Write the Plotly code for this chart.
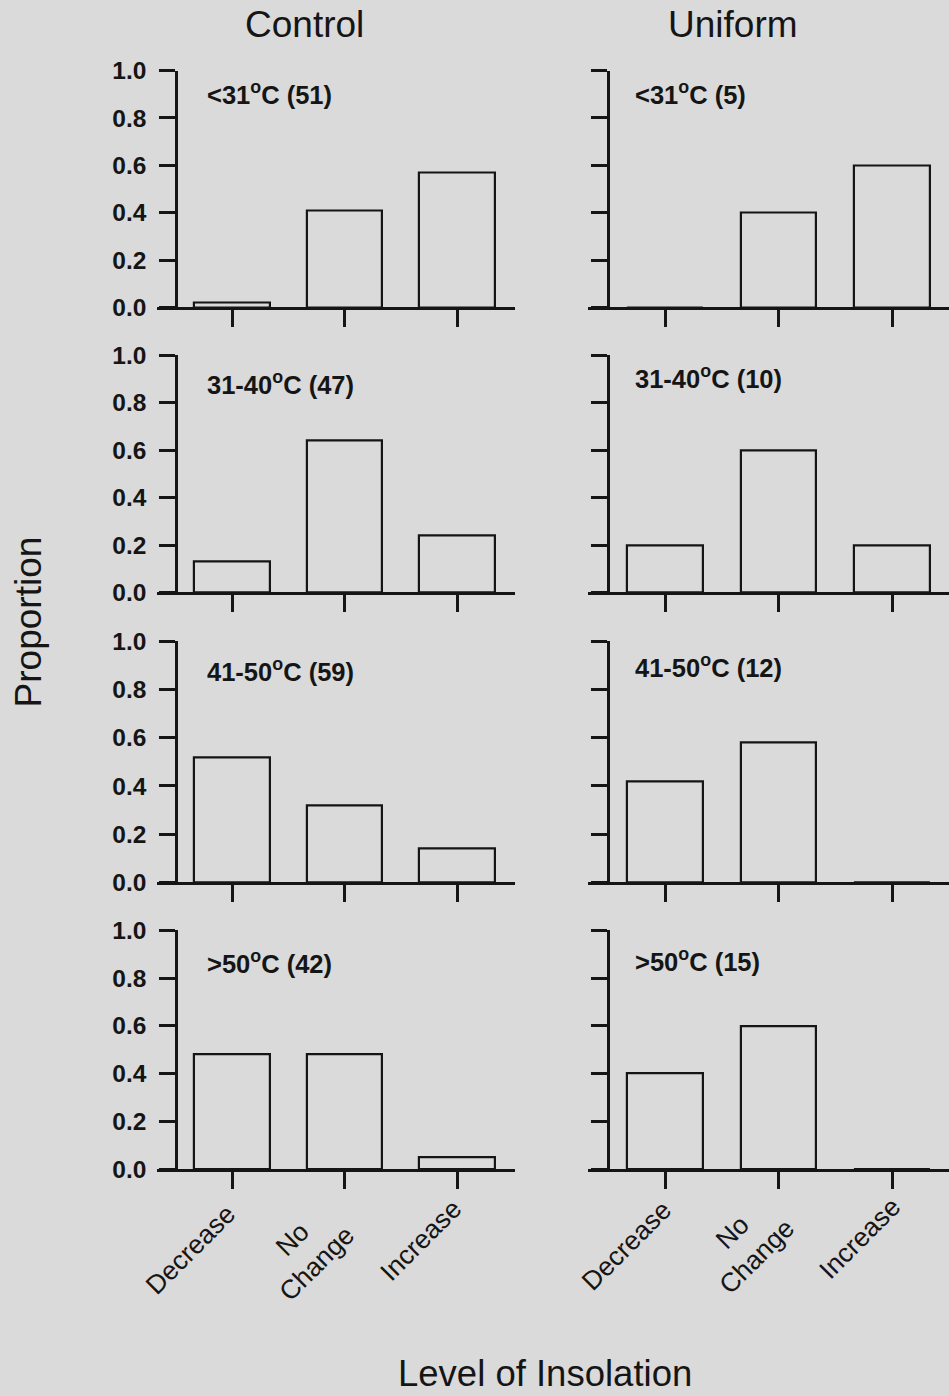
import plotly.graph_objects as go

# Response categories on the x axis
categories = ["Decrease", "No<br>Change", "Increase"]

# Temperature classes (rows) and sample sizes per treatment
temp_bins = ["&lt;31", "31-40", "41-50", "&gt;50"]
control_n = [51, 47, 59, 42]
uniform_n = [5, 10, 12, 15]

# Proportion of animals in each response category, per temperature class
control_props = [
    [0.02, 0.41, 0.57],
    [0.13, 0.64, 0.24],
    [0.52, 0.32, 0.14],
    [0.48, 0.48, 0.05],
]
uniform_props = [
    [0.00, 0.40, 0.60],
    [0.20, 0.60, 0.20],
    [0.42, 0.58, 0.00],
    [0.40, 0.60, 0.00],
]

treatments = ["Control", "Uniform"]
y_ticks = [0, 0.2, 0.4, 0.6, 0.8, 1.0]

W, H = 949, 1396
BG = "#dadada"
INK = "#151515"
FONT = "Liberation Sans, Arial, sans-serif"

# Page inset and scale of the rendered figure inside the viewport
OX, SX = 0.0, 1.0
OY, SY = 13.4, 0.981


def px_x(v):
    return min(1.0, max(0.0, ((v - OX) / SX) / W))


def px_y(v):
    return min(1.0, max(0.0, 1 - ((v - OY) / SY) / H))


# Panel geometry in viewport pixels
row_px = [(71, 308), (356, 593), (642, 883), (931, 1170)]
col_cfg = [
    dict(x0=157, x1=515, yline=176, ticks=(232, 457), label_x=205, title_x=304,
         cat_dx=[-42, -40, -36], cat_y=[1251, 1252, 1241]),
    dict(x0=588, x1=949, yline=608, ticks=(665, 892), label_x=633, title_x=733,
         cat_dx=[-39, -34, -32], cat_y=[1247, 1245, 1239]),
]
label_y = [[93, 384, 671, 963], [93, 378, 667, 961]]


def x_range(cfg):
    # category positions 0 and 2 sit at the given tick pixels
    a, b = cfg["ticks"]
    step = (b - a) / 2
    x1 = min(cfg["x1"], OX + SX * W)
    return [-(a - cfg["x0"]) / step, (x1 - a) / step]


fig = go.Figure()
layout = {}
annotations = []

for c, (props, ns) in enumerate([(control_props, control_n), (uniform_props, uniform_n)]):
    cfg = col_cfg[c]
    for r in range(4):
        k = r * 2 + c + 1
        xa = "x" if k == 1 else f"x{k}"
        ya = "y" if k == 1 else f"y{k}"
        xkey = "xaxis" if k == 1 else f"xaxis{k}"
        ykey = "yaxis" if k == 1 else f"yaxis{k}"
        top, bot = row_px[r]

        fig.add_trace(go.Bar(
            x=[0, 1, 2], y=props[r], width=0.667,
            marker=dict(color="rgba(0,0,0,0)", line=dict(color=INK, width=2.2)),
            xaxis=xa, yaxis=ya, showlegend=False, hoverinfo="skip",
        ))

        layout[xkey] = dict(
            domain=[px_x(cfg["x0"]), px_x(cfg["x1"])],
            anchor=ya, range=x_range(cfg),
            showline=True, linecolor=INK, linewidth=2.5,
            showgrid=False, zeroline=False,
            tickmode="array", tickvals=[0, 1, 2],
            showticklabels=False,
            ticks="outside", ticklen=17, tickwidth=2.5, tickcolor=INK,
            fixedrange=True,
        )

        yaxis = dict(
            domain=[px_y(bot), px_y(top)],
            anchor="free", position=px_x(cfg["yline"]),
            range=[0, 1],
            showline=True, linecolor=INK, linewidth=2.5,
            showgrid=False, zeroline=False,
            tickmode="array", tickvals=y_ticks,
            showticklabels=(c == 0),
            ticks="outside", ticklen=16, tickwidth=2.5, tickcolor=INK,
            fixedrange=True,
        )
        if c == 0:
            yaxis.update(
                ticktext=[f"{v:.1f}" for v in y_ticks],
                ticklabelstandoff=8,
                tickfont=dict(family=FONT, size=24.5, color=INK, weight="bold"),
            )
        layout[ykey] = yaxis

        annotations.append(dict(
            text=f"{temp_bins[r]}<sup>o</sup>C ({ns[r]})",
            xref="paper", yref="paper",
            x=px_x(cfg["label_x"]), y=px_y(label_y[c][r]),
            xanchor="left", yanchor="middle", showarrow=False,
            font=dict(family=FONT, size=25.5, color=INK, weight="bold"),
        ))

        # Slanted category names under the bottom panel, centred lines
        if r == 3:
            for i, name in enumerate(categories):
                annotations.append(dict(
                    text=name, xref=xa, yref="paper",
                    x=i, xshift=cfg["cat_dx"][i] / SX,
                    y=px_y(cfg["cat_y"][i]),
                    xanchor="center", yanchor="middle", align="center",
                    textangle=-45, showarrow=False,
                    font=dict(family=FONT, size=26.5, color=INK),
                ))

    annotations.append(dict(
        text=treatments[c], xref="paper", yref="paper",
        x=px_x(cfg["title_x"]), y=px_y(25),
        xanchor="center", yanchor="middle", showarrow=False,
        font=dict(family=FONT, size=37, color=INK),
    ))

annotations.append(dict(
    text="Proportion", xref="paper", yref="paper",
    x=px_x(28), y=px_y(623), textangle=-90,
    xanchor="center", yanchor="middle", showarrow=False,
    font=dict(family=FONT, size=37, color=INK),
))
annotations.append(dict(
    text="Level of Insolation", xref="paper", yref="paper",
    x=px_x(545), y=px_y(1374),
    xanchor="center", yanchor="middle", showarrow=False,
    font=dict(family=FONT, size=36.5, color=INK),
))

fig.update_layout(
    width=W, height=H,
    margin=dict(l=0, r=0, t=0, b=0),
    paper_bgcolor=BG, plot_bgcolor=BG,
    annotations=annotations,
    bargap=0,
    **layout,
)

fig.write_html("out.html")
